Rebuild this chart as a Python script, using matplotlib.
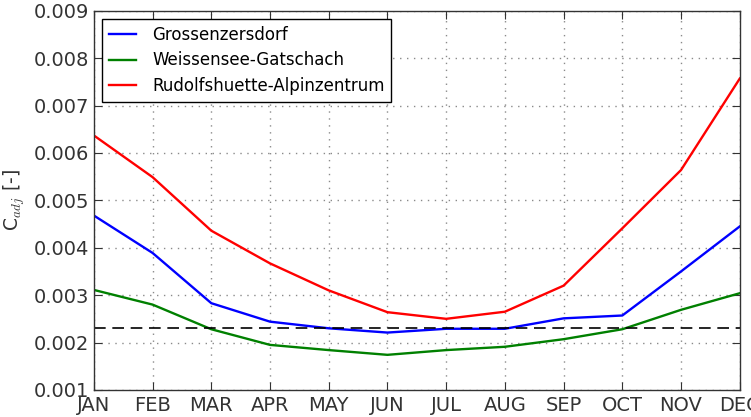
import matplotlib
matplotlib.use("Agg")
import matplotlib.pyplot as plt

# monthly values
months = ["JAN", "FEB", "MAR", "APR", "MAY", "JUN", "JUL", "AUG", "SEP", "OCT", "NOV", "DEC"]
grossenzersdorf = [0.00468, 0.00389, 0.00283, 0.00244, 0.00230, 0.00221, 0.00229, 0.00229, 0.00251, 0.00257, 0.00350, 0.00445]
weissensee = [0.00311, 0.00280, 0.00228, 0.00195, 0.00184, 0.00174, 0.00184, 0.00191, 0.00207, 0.00228, 0.00269, 0.00304]
rudolfshuette = [0.00637, 0.00549, 0.00436, 0.00367, 0.00310, 0.00264, 0.00250, 0.00265, 0.00320, 0.00441, 0.00564, 0.00757]
threshold = 0.0023

plt.rcParams["mathtext.fontset"] = "cm"

x = list(range(len(months)))

fig = plt.figure(figsize=(7.51, 4.17), dpi=100)
ax = fig.add_axes([0.125, 0.065, 0.86, 0.909])

ax.plot(x, grossenzersdorf, color="blue", lw=1.7, label="Grossenzersdorf")
ax.plot(x, weissensee, color="green", lw=1.7, label="Weissensee-Gatschach")
ax.plot(x, rudolfshuette, color="red", lw=1.7, label="Rudolfshuette-Alpinzentrum")
ax.axhline(threshold, color="black", ls="--", dashes=(7, 4), lw=1.2)

ax.set_xlim(0, 11)
ax.set_ylim(0.001, 0.009)
ax.set_xticks(x)
ax.set_xticklabels(months)
ax.set_yticks([0.001 * i for i in range(1, 10)])
ax.set_yticklabels(["%.3f" % (0.001 * i) for i in range(1, 10)])
ax.tick_params(direction="in", top=True, right=True, length=6, labelsize=14, colors="#333333")
ax.tick_params(axis="x", pad=4.5)
ax.grid(True, ls=(0, (1, 4)), color="#8a8a8a", lw=1.0)
for s in ax.spines.values():
    s.set_color("#333333")
    s.set_linewidth(1.0)

ax.set_ylabel("C$_{adj}$ [-]", fontsize=13.5, color="#333333", labelpad=5)

leg = ax.legend(loc="upper left", fontsize=12, fancybox=False, framealpha=1,
                edgecolor="black", handlelength=1.6, handletextpad=1.0,
                labelspacing=0.45, borderaxespad=0.5)
leg.get_frame().set_linewidth(1.0)

fig.savefig("out.png", dpi=100, facecolor="white")
